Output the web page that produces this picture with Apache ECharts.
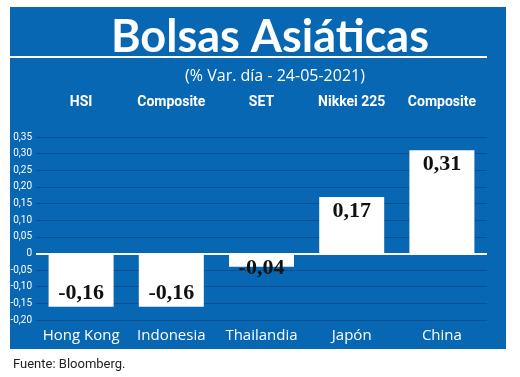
<!DOCTYPE html>
<html>
<head>
<meta charset="utf-8">
<script src="https://cdn.jsdelivr.net/npm/echarts@6/dist/echarts.min.js"></script>
<style>
  html, body { margin: 0; padding: 0; background: #fff; }
  #chart { width: 520px; height: 377px; }
</style>
</head>
<body>
<div id="chart"></div>
<script>
const countries = ['Hong Kong', 'Indonesia', 'Thailandia', 'Japón', 'China'];
const indexNames = ['HSI', 'Composite', 'SET', 'Nikkei 225', 'Composite'];
const changes = [-0.16, -0.16, -0.04, 0.17, 0.31];

const blue = '#0867b2';
const fmt = v => (v === 0 ? '0' : v.toFixed(2).replace('.', ','));

const chart = echarts.init(document.getElementById('chart'));

const option = {
  backgroundColor: '#fff',
  animation: false,
  graphic: [
    { type: 'rect', z: -10, shape: { x: 10, y: 7, width: 496, height: 342 }, style: { fill: blue } },
    { type: 'line', z: 5, shape: { x1: 10, y1: 57, x2: 487, y2: 57 }, style: { stroke: '#fff', lineWidth: 2 } },
    { type: 'text', left: 13, top: 358, style: { text: 'Fuente: Bloomberg.', fill: '#222', font: '13px Roboto' } }
  ],
  title: [
    {
      text: 'Bolsas Asiáticas', left: 265, top: 10, textAlign: 'center',
      textStyle: { color: '#fff', fontSize: 45, fontWeight: 'bold', fontFamily: 'Lato' }
    },
    {
      text: '(% Var. día - 24-05-2021)', left: 270, top: 63, textAlign: 'center',
      textStyle: { color: '#fff', fontSize: 16, fontWeight: 'normal', fontFamily: 'Open Sans' }
    }
  ],
  grid: { left: 36, right: 33, top: 137, bottom: 57 },
  xAxis: [
    {
      type: 'category', data: countries, position: 'bottom',
      axisLine: { show: false }, axisTick: { show: false },
      axisLabel: { color: '#fff', fontSize: 15, margin: 8, interval: 0, fontFamily: 'Open Sans' }
    },
    {
      type: 'category', data: indexNames, position: 'top',
      axisLine: { show: false }, axisTick: { show: false },
      axisLabel: { color: '#fff', fontSize: 14, fontWeight: 'bold', margin: 28, interval: 0, fontFamily: 'Roboto' }
    }
  ],
  yAxis: {
    type: 'value', min: -0.2, max: 0.35, interval: 0.05,
    axisLine: { show: false }, axisTick: { show: false },
    axisLabel: { color: '#fff', fontSize: 10, margin: 4, fontFamily: 'Roboto', formatter: fmt },
    splitLine: { lineStyle: { color: '#0a4f93', width: 1 } }
  },
  series: [{
    type: 'bar',
    barWidth: 65,
    itemStyle: { color: '#fff' },
    data: changes.map(v => ({
      value: v,
      label: v < 0
        ? { position: v < -0.1 ? 'insideBottom' : 'bottom', distance: v < -0.1 ? 2 : -9 }
        : { position: 'insideTop', distance: 3 }
    })),
    label: {
      show: true, color: '#111', fontSize: 22, fontWeight: 'bold',
      fontFamily: '"Liberation Serif", serif',
      formatter: p => fmt(p.value)
    },
    markLine: {
      silent: true, symbol: 'none', label: { show: false },
      lineStyle: { color: '#fff', width: 2, type: 'solid' },
      data: [{ yAxis: 0 }]
    }
  }]
};

chart.setOption(option);
</script>
</body>
</html>
